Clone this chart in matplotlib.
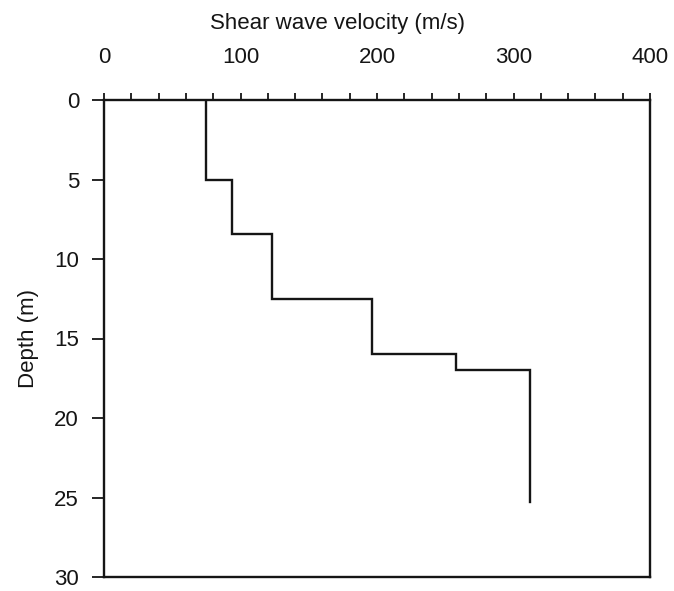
import matplotlib
matplotlib.use("Agg")
import matplotlib.pyplot as plt
from matplotlib.ticker import MultipleLocator

plt.rcParams['font.family'] = ['Liberation Sans', 'DejaVu Sans']

# Layer boundaries (m) and shear wave velocity of each layer (m/s)
layer_top = [0, 5.0, 8.4, 12.5, 16.0, 17.0]
layer_bottom = [5.0, 8.4, 12.5, 16.0, 17.0, 25.3]
velocity = [75, 94, 123, 196, 258, 312]

x_ticks = [0, 100, 200, 300, 400]
y_ticks = [0, 5, 10, 15, 20, 25, 30]

# Build the stepped profile from the layer table
xs, ys = [], []
for v, top, bot in zip(velocity, layer_top, layer_bottom):
    xs += [v, v]
    ys += [top, bot]

ink = '#151515'
fig = plt.figure(figsize=(6.74, 5.91), dpi=100)
ax = fig.add_axes([104 / 674, 1 - 577 / 591, 546 / 674, 477 / 591])

ax.plot(xs, ys, color=ink, lw=1.7, solid_joinstyle='miter')

ax.set_xlim(0, 400)
ax.set_ylim(30, 0)
ax.set_xticks(x_ticks)
ax.set_yticks(y_ticks)
ax.xaxis.set_minor_locator(MultipleLocator(20))

ax.xaxis.tick_top()
ax.tick_params(axis='x', which='major', direction='out', length=5, width=1.3,
               color=ink, labelsize=16, labelcolor=ink, pad=18)
ax.tick_params(axis='x', which='minor', direction='out', length=5, width=1.3, color=ink)
ax.tick_params(axis='y', which='major', direction='out', length=9, width=1.3,
               color=ink, labelsize=16, labelcolor=ink, pad=9)

for s in ax.spines.values():
    s.set_linewidth(1.7)
    s.set_color(ink)

fig.text(0.5, 1 - 23 / 591, 'Shear wave velocity (m/s)', fontsize=16, color=ink,
         ha='center', va='center')
ax.set_ylabel('Depth (m)', fontsize=16, color=ink)
ax.yaxis.set_label_coords(-65 / 546, 0.5)

fig.savefig('out.png', dpi=100)
